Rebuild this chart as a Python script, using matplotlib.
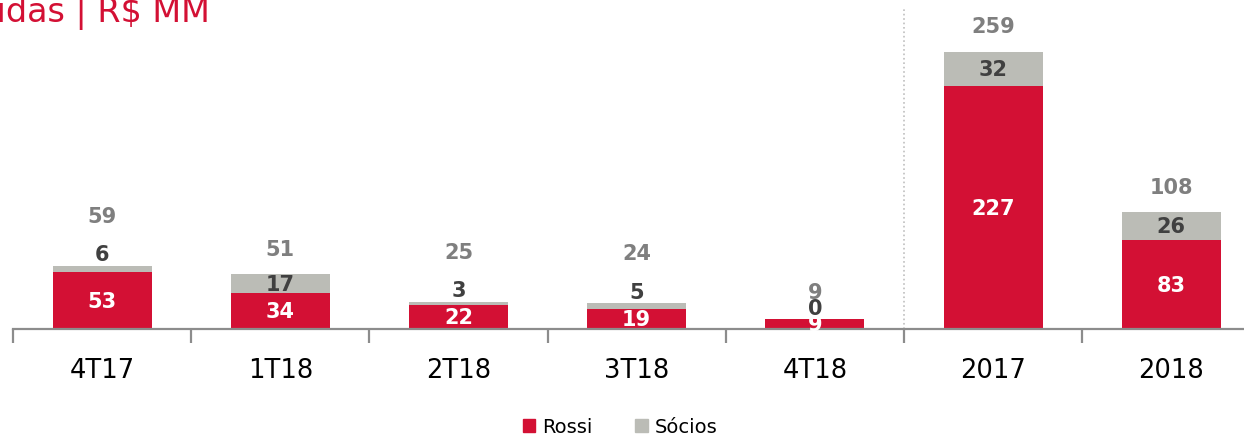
import numpy as np
import matplotlib.pyplot as plt
from matplotlib.patches import Patch

# %% data
categories = ['4T17', '1T18', '2T18', '3T18', '4T18', '2017', '2018']
rossi = [53, 34, 22, 19, 9, 227, 83]
socios = [6, 17, 3, 5, 0, 32, 26]
totals = [59, 51, 25, 24, 9, 259, 108]

red = '#D31034'
grey = '#BBBCB6'
axis_grey = '#8C8C8C'

# %% figure
fig = plt.figure(figsize=(12.44, 4.39), dpi=100)
ax = fig.add_axes([13 / 1244, 1 - 330 / 439, 1 - 13 / 1244, 330 / 439])

x = np.arange(len(categories))
w = 0.556
ax.bar(x, rossi, w, color=red, zorder=2)
ax.bar(x, socios, w, bottom=rossi, color=grey, zorder=2)

# value labels
for i in range(len(categories)):
    top = rossi[i] + socios[i]
    ax.text(x[i], rossi[i] / 2, str(rossi[i]), ha='center', va='center',
            color='white', fontsize=15, fontweight='bold', zorder=3)
    if socios[i] >= 10:
        soc_y = rossi[i] + socios[i] / 2
        tot_y = top + 24
    else:
        soc_y = top + 11
        tot_y = soc_y + 36 if socios[i] > 0 else top + 26
    ax.text(x[i], soc_y, str(socios[i]), ha='center', va='center',
            color='#404040', fontsize=15, fontweight='bold', zorder=4)
    ax.text(x[i], tot_y, str(totals[i]), ha='center', va='center',
            color='#7F7F7F', fontsize=15, fontweight='bold', zorder=4)

# separator between quarters and years
ax.plot([4.5, 4.5], [0, 299], linestyle=':', color='#BFBFBF', linewidth=1.2, zorder=1)

# spines and ticks
for s in ['left', 'right', 'top']:
    ax.spines[s].set_visible(False)
ax.spines['bottom'].set_color(axis_grey)
ax.spines['bottom'].set_linewidth(1.6)
ax.set_yticks([])
ax.set_xticks(x)
ax.set_xticklabels(categories, fontsize=18.5)
ax.tick_params(axis='x', which='major', length=0, pad=20)
ax.set_xticks(np.arange(-0.5, 7.0, 1.0), minor=True)
ax.tick_params(axis='x', which='minor', length=10, width=1.6, color=axis_grey, direction='out')

# limits last, so the tick calls do not widen them
ax.set_xlim(-0.5, -0.5 + (1244 - 13) / 178.2)
ax.set_ylim(0, 330 / 1.0695)

# title (cut off on the left as in the slide)
fig.text(210 / 1244, 1 - 22 / 439, 'Vendas Líquidas | R$ MM', ha='right', va='baseline',
         color=red, fontsize=24)

# legend
handles = [Patch(color=red, label='Rossi'), Patch(color=grey, label='Sócios')]
fig.legend(handles=handles, loc='center', bbox_to_anchor=(620 / 1244, 1 - 428 / 439),
           ncol=2, frameon=False, fontsize=14, handlelength=0.65, handleheight=0.65,
           handletextpad=0.35, columnspacing=2.2)

plt.savefig('out.png', dpi=100)
